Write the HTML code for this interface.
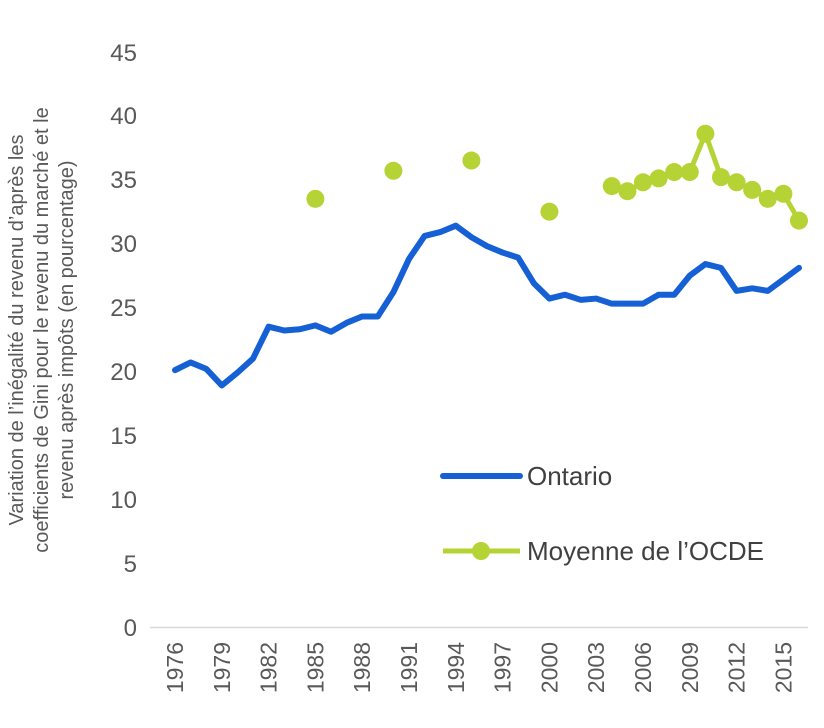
<!DOCTYPE html>
<html><head><meta charset="utf-8"><style>
html,body{margin:0;padding:0;background:#fff;}
svg{display:block;font-family:"Segoe UI","Liberation Sans",sans-serif;}
</style></head><body>
<svg width="824" height="728" viewBox="0 0 824 728" xmlns="http://www.w3.org/2000/svg">
<line x1="150" y1="627.5" x2="808" y2="627.5" stroke="#d9d9d9" stroke-width="1.5"/>
<g fill="#595959" font-size="24" text-anchor="end">
<text x="137" y="636">0</text>
<text x="137" y="572">5</text>
<text x="137" y="508">10</text>
<text x="137" y="444">15</text>
<text x="137" y="380">20</text>
<text x="137" y="316">25</text>
<text x="137" y="252">30</text>
<text x="137" y="188">35</text>
<text x="137" y="124">40</text>
<text x="137" y="61">45</text>
</g>
<g fill="#595959" font-size="23" text-anchor="end" id="xl"></g>
<g fill="#595959" font-size="20" text-anchor="middle" transform="translate(47,330) rotate(-90)">
<text x="0" y="-24">Variation de l’inégalité du revenu d’après les</text>
<text x="0" y="1">coefficients de Gini pour le revenu du marché et le</text>
<text x="0" y="26">revenu après impôts (en pourcentage)</text>
</g>
<polyline id="ont" fill="none" stroke="#1560d4" stroke-width="6" stroke-linejoin="round" stroke-linecap="round"/>
<polyline id="oc" fill="none" stroke="#b5d334" stroke-width="5" stroke-linejoin="round"/>
<g id="dots" fill="#b5d334"></g>
<line x1="443" y1="476" x2="520" y2="476" stroke="#1560d4" stroke-width="6" stroke-linecap="round"/>
<text x="527" y="485" font-size="26" fill="#404040">Ontario</text>
<line x1="443" y1="551" x2="520" y2="551" stroke="#b5d334" stroke-width="5"/>
<circle cx="481" cy="551" r="9" fill="#b5d334"/>
<text x="527" y="560" font-size="26" fill="#404040">Moyenne de l’OCDE</text>
</svg>
<script>
var ns="http://www.w3.org/2000/svg";
function X(y){return 175+(y-1976)*15.6;}
function Y(v){return 627-v*12.78;}
var xl=document.getElementById("xl");
for(var y=1976;y<=2015;y+=3){var t=document.createElementNS(ns,"text");t.setAttribute("transform","translate("+(X(y)+8)+",642) rotate(-90)");t.textContent=y;xl.appendChild(t);}
var ont=[20.1,20.7,20.2,18.9,19.9,21.0,23.5,23.2,23.3,23.6,23.1,23.8,24.3,24.3,26.2,28.8,30.6,30.9,31.4,30.5,29.8,29.3,28.9,26.9,25.7,26.0,25.6,25.7,25.3,25.3,25.3,26.0,26.0,27.5,28.4,28.1,26.3,26.5,26.3,27.2,28.1];
var p=[];ont.forEach(function(v,i){p.push(X(1976+i)+","+Y(v));});
document.getElementById("ont").setAttribute("points",p.join(" "));
var oc=[[1985,33.5],[1990,35.7],[1995,36.5],[2000,32.5],[2004,34.5],[2005,34.1],[2006,34.8],[2007,35.1],[2008,35.6],[2009,35.6],[2010,38.6],[2011,35.2],[2012,34.8],[2013,34.2],[2014,33.5],[2015,33.9],[2016,31.8]];
var q=[],d=document.getElementById("dots");
oc.forEach(function(a){if(a[0]>=2004)q.push(X(a[0])+","+Y(a[1]));var c=document.createElementNS(ns,"circle");c.setAttribute("cx",X(a[0]));c.setAttribute("cy",Y(a[1]));c.setAttribute("r",9);d.appendChild(c);});
document.getElementById("oc").setAttribute("points",q.join(" "));
</script>
</body></html>
